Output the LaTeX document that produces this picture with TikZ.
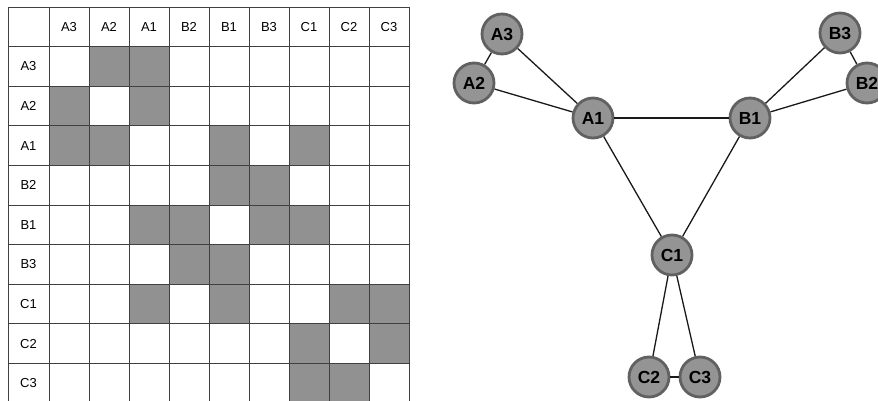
\documentclass[tikz,border=0pt]{standalone}
\usepackage{fontspec}
\setmainfont{Liberation Sans}
\begin{document}
\begin{tikzpicture}[x=1pt,y=-1pt,
  vtx/.style={circle,draw=black!62,line width=2.8pt,fill=black!42,minimum size=40pt,inner sep=0pt,font=\fontsize{17.5}{17.5}\selectfont\bfseries},
  edge/.style={line width=1.3pt,black!90},
  cellfill/.style={fill=black!43},
  grid/.style={draw=black!75,line width=0.8pt},
  lab/.style={font=\fontsize{13}{13}\selectfont}]
\useasboundingbox (0,0) rectangle (878,401);
\begin{scope}
\clip (0,0) rectangle (878,401);
\def\cw{40}\def\rh{39.6}
\foreach \c/\r in {2/1,3/1, 1/2,3/2, 1/3,2/3,5/3,7/3, 5/4,6/4, 3/5,4/5,6/5,7/5, 4/6,5/6, 3/7,5/7,8/7,9/7, 7/8,9/8, 7/9,8/9}{
  \fill[cellfill] ({49+(\c-1)*\cw},{7+\r*\rh}) rectangle ++(\cw,\rh);
}
\foreach \i in {0,...,10}{
  \draw[grid] (8,{7+\i*\rh}) -- (409,{7+\i*\rh});
}
\draw[grid] (8,7) -- (8,410);
\foreach \j in {0,...,9}{
  \draw[grid] ({49+\j*\cw},7) -- ({49+\j*\cw},410);
}
\end{scope}
\foreach \t [count=\k] in {A3,A2,A1,B2,B1,B3,C1,C2,C3}{
  \node[lab] (col\k) at ({49+(\k-0.5)*40},{7+0.5*39.6}) {\t};
  \node[lab] (row\k) at (28.5,{7+(\k+0.5)*39.6}) {\t};
}
\node[vtx] (A3) at (502,34) {A3};
\node[vtx] (A2) at (474,83) {A2};
\node[vtx] (A1) at (593,118) {A1};
\node[vtx] (B1) at (750,118) {B1};
\node[vtx] (B3) at (840,33) {B3};
\node[vtx] (B2) at (867,83) {B2};
\node[vtx] (C1) at (672,255) {C1};
\node[vtx] (C2) at (649,377) {C2};
\node[vtx] (C3) at (700,377) {C3};
\draw[edge] (A3) -- (A2);
\draw[edge] (A3) -- (A1);
\draw[edge] (A2) -- (A1);
\draw[edge] (A1) -- (B1);
\draw[edge] (B1) -- (B3);
\draw[edge] (B1) -- (B2);
\draw[edge] (B3) -- (B2);
\draw[edge] (A1) -- (C1);
\draw[edge] (B1) -- (C1);
\draw[edge] (C1) -- (C2);
\draw[edge] (C1) -- (C3);
\draw[edge] (C2) -- (C3);
\end{tikzpicture}
\end{document}
